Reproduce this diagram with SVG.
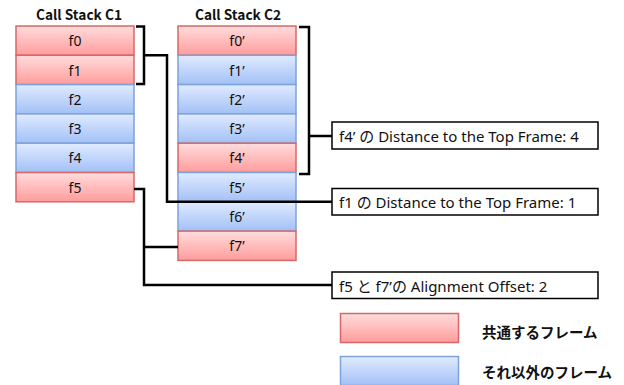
<svg xmlns="http://www.w3.org/2000/svg" width="624" height="385" viewBox="0 0 624 385">
<defs>
<linearGradient id="gr" x1="0" y1="0" x2="0" y2="1"><stop offset="0" stop-color="#ffdcdc"/><stop offset="1" stop-color="#ff9c9c"/></linearGradient>
<linearGradient id="gb" x1="0" y1="0" x2="0" y2="1"><stop offset="0" stop-color="#e0ebff"/><stop offset="1" stop-color="#a2c0f6"/></linearGradient>
</defs>
<style>
.r{fill:url(#gr);stroke:#d66868;stroke-width:1.5}
.b{fill:url(#gb);stroke:#7ea2da;stroke-width:1.5}
.t{font-family:"Noto Sans","Noto Sans CJK JP",sans-serif;font-size:14px;fill:#111;text-anchor:middle;dominant-baseline:central}
.h{font-family:"Noto Sans CJK JP",sans-serif;font-size:13.7px;font-weight:bold;fill:#111;text-anchor:middle}
.lb{fill:#fff;stroke:#000;stroke-width:1.5}
.lt{font-family:"Noto Sans","Noto Sans CJK JP",sans-serif;font-size:15px;fill:#111;dominant-baseline:central}
.lg{font-family:"Noto Sans CJK JP",sans-serif;font-size:14.5px;font-weight:bold;fill:#111;dominant-baseline:central}
.c{fill:none;stroke:#000;stroke-width:2.5}
</style>
<text class="h" x="79" y="20">Call Stack C1</text>
<text class="h" x="238" y="20">Call Stack C2</text>
<g id="c1">
<g id="f0"><rect class="r" x="16" y="26" width="118" height="29.3"/><text class="t" x="75" y="40.6">f0</text></g>
<g id="f1"><rect class="r" x="16" y="55.3" width="118" height="29.3"/><text class="t" x="75" y="70">f1</text></g>
<g id="f2"><rect class="b" x="16" y="84.6" width="118" height="29.3"/><text class="t" x="75" y="99.3">f2</text></g>
<g id="f3"><rect class="b" x="16" y="113.9" width="118" height="29.3"/><text class="t" x="75" y="128.6">f3</text></g>
<g id="f4"><rect class="b" x="16" y="143.2" width="118" height="29.3"/><text class="t" x="75" y="157.9">f4</text></g>
<g id="f5"><rect class="r" x="16" y="172.5" width="118" height="29.3"/><text class="t" x="75" y="187.2">f5</text></g>
</g>
<g id="c2">
<g id="f0p"><rect class="r" x="178" y="26" width="118" height="29.3"/><text class="t" x="237" y="40.6">f0’</text></g>
<g id="f1p"><rect class="b" x="178" y="55.3" width="118" height="29.3"/><text class="t" x="237" y="70">f1’</text></g>
<g id="f2p"><rect class="b" x="178" y="84.6" width="118" height="29.3"/><text class="t" x="237" y="99.3">f2’</text></g>
<g id="f3p"><rect class="b" x="178" y="113.9" width="118" height="29.3"/><text class="t" x="237" y="128.6">f3’</text></g>
<g id="f4p"><rect class="r" x="178" y="143.2" width="118" height="29.3"/><text class="t" x="237" y="157.9">f4’</text></g>
<g id="f5p"><rect class="b" x="178" y="172.5" width="118" height="29.3"/><text class="t" x="237" y="187.2">f5’</text></g>
<g id="f6p"><rect class="b" x="178" y="201.8" width="118" height="29.3"/><text class="t" x="237" y="216.5">f6’</text></g>
<g id="f7p"><rect class="r" x="178" y="231.1" width="118" height="29.3"/><text class="t" x="237" y="245.8">f7’</text></g>
</g>
<g id="connectors">
<path class="c" d="M136,26.5 H144 V84 H136"/>
<path class="c" d="M144,55.3 H167 V201.8 H332"/>
<path class="c" d="M299,27 H309 V174 H299"/>
<path class="c" d="M309,136 H332"/>
<path class="c" d="M134,189 H144 V285 H332"/>
<path class="c" d="M144,247 H178"/>
</g>
<g id="label1"><rect class="lb" x="332" y="122" width="266" height="27"/><text class="lt" x="339" y="136">f4’ の Distance to the Top Frame: 4</text></g>
<g id="label2"><rect class="lb" x="332" y="188.5" width="266" height="26.5"/><text class="lt" x="339" y="202">f1 の Distance to the Top Frame: 1</text></g>
<g id="label3"><rect class="lb" x="332" y="272" width="266" height="26.5"/><text class="lt" x="339" y="285.5">f5 と f7’の Alignment Offset: 2</text></g>
<g id="legend-common"><rect class="r" x="340.5" y="313.5" width="118" height="29"/><text class="lg" x="482" y="331">共通するフレーム</text></g>
<g id="legend-other"><rect class="b" x="340.5" y="356.5" width="118" height="29"/><text class="lg" x="482" y="371">それ以外のフレーム</text></g>
</svg>
